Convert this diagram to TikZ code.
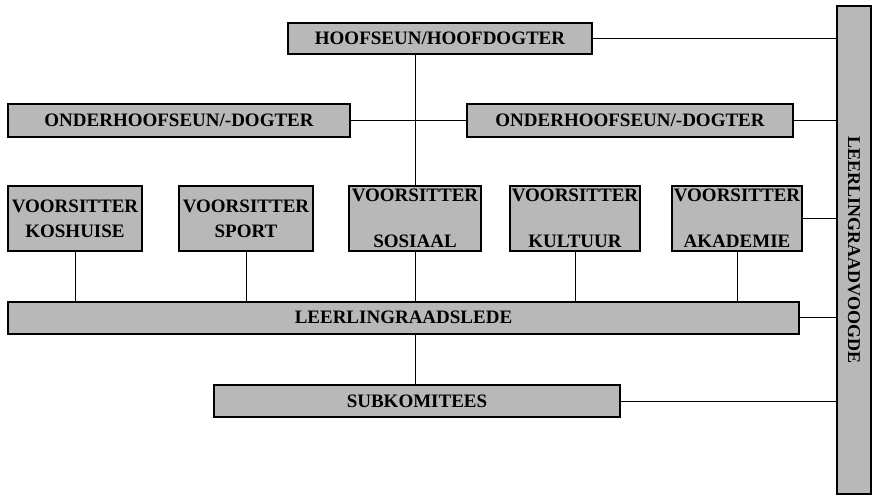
\documentclass[tikz,border=0pt]{standalone}
\usepackage{fontspec}
\setmainfont{Liberation Serif}
\usetikzlibrary{positioning}

\begin{document}
\begin{tikzpicture}[x=1pt, y=-1pt,
    box/.style={draw, line width=2pt, fill=black!28, inner sep=2pt, align=center,
                font=\bfseries\fontsize{19}{20}\selectfont},
    vbox/.style={box, minimum width=130pt, minimum height=65pt}]
          \useasboundingbox (0,0) rectangle (874,500);
          \node (hs) [box, minimum width=304pt, minimum height=31pt] at (440,38.5) {HOOFSEUN/HOOFDOGTER};
          \node (ohl) [box, minimum width=342pt, minimum height=33pt] at (179,120.5) {ONDERHOOFSEUN/-DOGTER};
          \node (ohr) [box, minimum width=326pt, minimum height=33pt] at (630,120.5) {ONDERHOOFSEUN/-DOGTER};

          \node (vk) [vbox, minimum width=134pt] at (75,218.5) {VOORSITTER\\[5pt]KOSHUISE};
          \node (vsp) [vbox, minimum width=134pt] at (246,218.5) {VOORSITTER\\[5pt]SPORT};
          \node (vso) [vbox, minimum width=132pt] at (415,218.5) {VOORSITTER\\[26pt]SOSIAAL};
          \node (vku) [vbox, minimum width=128pt] at (575,218.5) {VOORSITTER\\[26pt]KULTUUR};
          \node (vak) [vbox, minimum width=126pt] at (737,218.5) {VOORSITTER\\[26pt]AKADEMIE};

          \node (lrl) [box, minimum width=791pt, minimum height=32pt] at (403.5,317.5) {LEERLINGRAADSLEDE};
          \node (sk) [box, minimum width=406pt, minimum height=32pt] at (417,401) {SUBKOMITEES};
          \node (lrv) [box, rotate=-90, minimum width=488pt, minimum height=34pt,
                       font=\bfseries\fontsize{18}{20}\selectfont] at (854,250) {LEERLINGRAADVOOGDE};

          \path [draw, line width=0.8pt]
              (hs.east) edge (hs.east -| lrv.south)
              (vso.north) edge (vso.north |- hs.south)
              (ohl.east) edge (ohr.west)
              (ohr.east) edge (ohr.east -| lrv.south)
              (vak.east) edge (vak.east -| lrv.south)
              (lrl.east) edge (lrl.east -| lrv.south)
              (sk.east) edge (sk.east -| lrv.south)
              (vk.south) edge (vk.south |- lrl.north)
              (vsp.south) edge (vsp.south |- lrl.north)
              (vso.south) edge (vso.south |- lrl.north)
              (vku.south) edge (vku.south |- lrl.north)
              (vak.south) edge (vak.south |- lrl.north)
              (lrl.south -| vso.south) edge (sk.north -| vso.south)
              ;
      \end{tikzpicture}
\end{document}
